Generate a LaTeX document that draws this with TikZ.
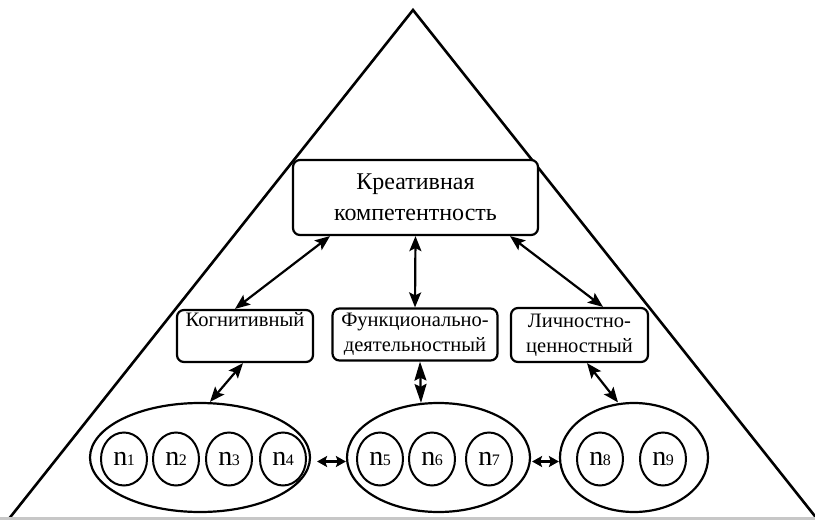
\documentclass[tikz,border=0pt]{standalone}
\usepackage{fontspec}
\setmainfont{Liberation Serif}
\usetikzlibrary{arrows.meta,shapes.geometric}
\begin{document}
\begin{tikzpicture}[x=1pt,y=-1pt,
  boxnode/.style={draw,line width=2.2pt,rounded corners=7pt,align=center,inner sep=0pt,fill=white},
  bigoval/.style={draw,ellipse,line width=2.2pt,inner sep=0pt,minimum height=109pt},
  smalloval/.style={draw,ellipse,line width=2pt,inner sep=0pt,minimum width=46pt,minimum height=53pt},
  dbl/.style={{Stealth[length=15pt,width=12pt,inset=3pt]}-{Stealth[length=15pt,width=12pt,inset=3pt]},line width=2.2pt},
  shortdbl/.style={{Stealth[length=10pt,width=11pt,inset=2pt]}-{Stealth[length=10pt,width=11pt,inset=2pt]},line width=2.2pt},
  smalltxt/.style={font=\fontsize{20.5}{25}\selectfont}
]
\newcommand{\nlab}[1]{{\fontsize{28}{28}\selectfont n}\kern-0.5pt{\fontsize{16}{16}\selectfont #1}}
\useasboundingbox (0,0) rectangle (815,520);
\fill[white] (0,0) rectangle (815,520);
% pyramid
\coordinate (apex) at (413,10);
\coordinate (bl) at (8,520);
\coordinate (br) at (818,520);
\begin{scope}
\clip (0,0) rectangle (815,517);
\draw[line width=2.6pt,line join=miter] (bl) -- (apex) -- (br);
\end{scope}
\fill[black!22] (0,517) rectangle (815,520);
% boxes
\node[boxnode,minimum width=245pt,minimum height=75pt,font=\fontsize{24}{31}\selectfont] (top) at (415.5,197.5) {Креативная\\компетентность};
\node[boxnode,smalltxt,minimum width=136pt,minimum height=52pt] (kog) at (245,336) {Когнитивный\\\strut};
\node[boxnode,smalltxt,minimum width=165pt,minimum height=52pt] (fun) at (415,334.5) {Функционально-\\деятельностный};
\node[boxnode,smalltxt,minimum width=137pt,minimum height=54pt] (lich) at (579.5,335) {Личностно-\\ценностный};
% ovals
\node[bigoval,minimum width=220pt] (e1) at (200,457.5) {};
\node[bigoval,minimum width=183pt] (e2) at (438.5,457.5) {};
\node[bigoval,minimum width=148pt] (e3) at (634,457.5) {};
\node[smalloval] (n1) at (124,459) {\nlab{1}};
\node[smalloval] (n2) at (176,459) {\nlab{2}};
\node[smalloval] (n3) at (229,459) {\nlab{3}};
\node[smalloval] (n4) at (283,459) {\nlab{4}};
\node[smalloval] (n5) at (380,459) {\nlab{5}};
\node[smalloval] (n6) at (432,459) {\nlab{6}};
\node[smalloval] (n7) at (489,459) {\nlab{7}};
\node[smalloval] (n8) at (600,459) {\nlab{8}};
\node[smalloval] (n9) at (663,459) {\nlab{9}};
% connectors
\draw[dbl] ([xshift=-85.5pt]top.south) -- ([xshift=-10pt]kog.north);
\draw[dbl] (top.south) -- (fun.north);
\draw[dbl] ([xshift=94.5pt]top.south) -- ([xshift=23.5pt]lich.north);
\draw[dbl] ([xshift=-2pt]kog.south) -- ([xshift=10pt]e1.north);
\draw[{Stealth[length=19pt,width=12pt,inset=3pt]}-{Stealth[length=19pt,width=12pt,inset=3pt]},line width=2.2pt] ([xshift=5pt]fun.south) -- ([xshift=-17.5pt,yshift=-1pt]e2.north);
\draw[dbl] ([xshift=7.5pt]lich.south) -- ([xshift=-16pt,yshift=-0.5pt]e3.north);
\draw[shortdbl,shorten <=6pt] ([yshift=-4pt]e1.east) -- ([yshift=-4pt]e2.west);
\draw[shortdbl,shorten <=1pt] ([yshift=-4pt]e2.east) -- ([yshift=-4pt]e3.west);
\end{tikzpicture}
\end{document}
